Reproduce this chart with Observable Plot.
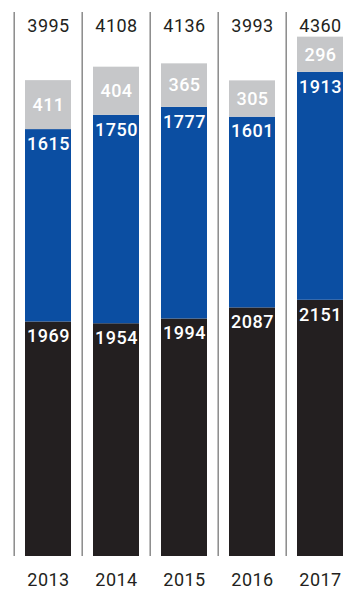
<!DOCTYPE html>
<html>
<head>
<meta charset="utf-8">
<script src="https://cdn.jsdelivr.net/npm/d3@7"></script>
<script src="https://cdn.jsdelivr.net/npm/@observablehq/plot@0.6"></script>
<style>
  html, body { margin: 0; padding: 0; background: #fff; }
  svg { display: block; }
  svg text { letter-spacing: 0.5px; }
</style>
</head>
<body>
<div id="chart"></div>
<script>
const years = ["2013", "2014", "2015", "2016", "2017"];
const bottomSeries = [1969, 1954, 1994, 2087, 2151];
const middleSeries = [1615, 1750, 1777, 1601, 1913];
const topSeries = [411, 404, 365, 305, 296];
const totals = [3995, 4108, 4136, 3993, 4360];

const seriesNames = ["bottom", "middle", "top"];
const seriesValues = [bottomSeries, middleSeries, topSeries];
const colors = ["#231f20", "#0b4ea2", "#c6c7c9"];

// build stacked table
const rows = [];
years.forEach((yr, i) => {
  let base = 0;
  seriesValues.forEach((vals, s) => {
    const v = vals[i];
    rows.push({year: yr, series: seriesNames[s], value: v, y1: base, y2: base + v});
    base += v;
  });
});
const totalRows = years.map((yr, i) => ({year: yr, total: totals[i]}));

const font = "Roboto, 'DejaVu Sans', sans-serif";

const chart = Plot.plot({
  width: 343,
  height: 594,
  marginTop: 12,
  marginBottom: 38,
  marginLeft: 14,
  marginRight: 0,
  style: {fontFamily: font, background: "#fff"},
  x: {domain: years, range: [14, 354], paddingInner: 0.3235, paddingOuter: 0.16175, axis: null},
  y: {domain: [0, 4567], axis: null},
  color: {domain: seriesNames, range: colors},
  marks: [
    Plot.ruleX(years, {x: d => d, dx: -34.3, stroke: "#8a8a8a", strokeWidth: 1.5}),
    Plot.rectY(rows, {x: "year", y1: "y1", y2: "y2", fill: "series"}),
    Plot.text(rows.filter(d => d.series !== "top"), {
      x: "year", y: "y2", text: d => String(d.value), dy: 14.5,
      fill: "#fff", fontSize: 18, fontWeight: 500
    }),
    Plot.text(rows.filter(d => d.series === "top"), {
      x: "year", y: d => (d.y1 + d.y2) / 2, text: d => String(d.value),
      fill: "#fff", fontSize: 18, fontWeight: 500
    }),
    Plot.text(totalRows, {
      x: "year", frameAnchor: "top", dy: 6.5, text: d => String(d.total),
      fill: "#231f20", fontSize: 18, fontWeight: 400
    }),
    Plot.text(years, {
      x: d => d, frameAnchor: "bottom", dy: 29, text: d => d,
      fill: "#231f20", fontSize: 18, fontWeight: 400
    })
  ]
});
document.getElementById("chart").appendChild(chart);
</script>
</body>
</html>
